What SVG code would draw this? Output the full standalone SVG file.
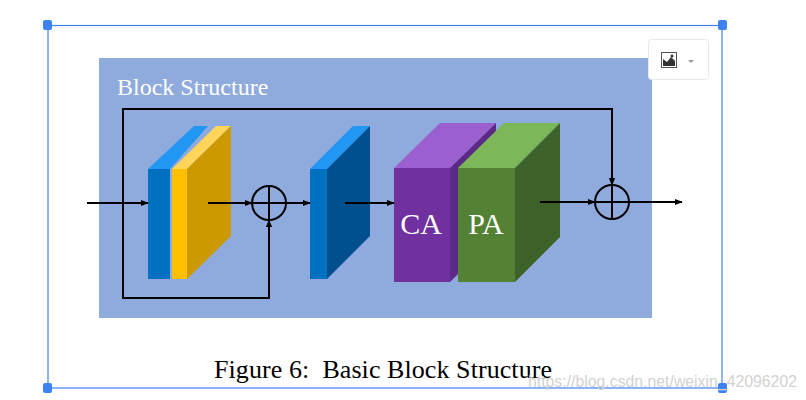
<svg xmlns="http://www.w3.org/2000/svg" width="806" height="400" viewBox="0 0 806 400">
<defs>
<marker id="ah" viewBox="0 0 10 10" refX="9" refY="5" markerWidth="8" markerHeight="8" markerUnits="userSpaceOnUse" orient="auto">
<path d="M0,1 L10,5 L0,9 Z" fill="#000"/>
</marker>
<style>
.ln{fill:none;stroke:#000;stroke-width:2}
.sel{fill:none;stroke:#3C82F0;stroke-width:1.2}
.hd{fill:#3C82F0}
.lbl{font-family:"Liberation Serif","Times New Roman",serif;fill:#fff}
</style>
</defs>
<rect width="806" height="400" fill="#fff"/>
<g id="panel">
<rect x="99" y="58" width="553" height="260" fill="#8FAADC"/>
<text class="lbl" x="117" y="95" font-size="24">Block Structure</text>
</g>
<g id="conv1">
<polygon points="148,169 194,126 208,126 170,169" fill="#2196F3"/>
<rect x="148" y="169" width="22" height="110" fill="#0070C0"/>
</g>
<g id="conv2">
<polygon points="172,169 216,126 231,126 187,169" fill="#FFD55A"/>
<polygon points="187,169 231,126 231,236 187,279" fill="#CC9900"/>
<rect x="172" y="169" width="15" height="110" fill="#FFC000"/>
</g>
<g id="add1">
<circle cx="269" cy="203" r="17" fill="none" stroke="#000" stroke-width="2"/>
<line x1="252" y1="203" x2="286" y2="203" stroke="#000" stroke-width="2"/>
<line x1="269" y1="186" x2="269" y2="220" stroke="#000" stroke-width="2"/>
</g>
<g id="conv3">
<polygon points="310,169 353,126 370,126 327,169" fill="#2196F3"/>
<polygon points="327,169 370,126 370,236 327,279" fill="#00508F"/>
<rect x="310" y="169" width="17" height="110" fill="#0070C0"/>
</g>
<g id="ca">
<polygon points="394,168 440,123 496,123 450,168" fill="#9B5FCF"/>
<polygon points="450,168 496,123 496,237 450,282" fill="#5A2A86"/>
<rect x="394" y="168" width="56" height="114" fill="#7030A0"/>
<text class="lbl" x="421" y="234" font-size="30" text-anchor="middle">CA</text>
</g>
<g id="pa">
<polygon points="458,168 504,123 560,123 515,168" fill="#7DB858"/>
<polygon points="515,168 560,123 560,237 515,282" fill="#3E6328"/>
<rect x="458" y="168" width="57" height="114" fill="#548235"/>
<text class="lbl" x="486" y="234" font-size="30" text-anchor="middle">PA</text>
</g>
<g id="add2">
<circle cx="612" cy="202" r="17" fill="none" stroke="#000" stroke-width="2"/>
<line x1="595" y1="202" x2="629" y2="202" stroke="#000" stroke-width="2"/>
<line x1="612" y1="185" x2="612" y2="219" stroke="#000" stroke-width="2"/>
</g>
<g id="connectors">
<line class="ln" x1="87" y1="203" x2="148" y2="203" marker-end="url(#ah)"/>
<line class="ln" x1="208" y1="203" x2="252" y2="203" marker-end="url(#ah)"/>
<polyline class="ln" points="123,203 123,298 269,298 269,220" marker-end="url(#ah)"/>
<line class="ln" x1="286" y1="203" x2="310" y2="203" marker-end="url(#ah)"/>
<line class="ln" x1="345" y1="203" x2="394" y2="203" marker-end="url(#ah)"/>
<polyline class="ln" points="123,203 123,109 612,109 612,185" marker-end="url(#ah)"/>
<line class="ln" x1="540" y1="202" x2="595" y2="202" marker-end="url(#ah)"/>
<line class="ln" x1="629" y1="202" x2="682" y2="202" marker-end="url(#ah)"/>
</g>
<g id="caption">
<text x="214" y="378" font-family="'Liberation Serif','Times New Roman',serif" font-size="26" fill="#000" textLength="338" xml:space="preserve">Figure 6:  Basic Block Structure</text>
</g>
<g id="selection">
<rect class="sel" x="48" y="25.5" width="674" height="362.5"/>
<rect class="hd" x="43" y="20" width="9" height="10" rx="2"/>
<rect class="hd" x="718" y="20" width="9" height="10" rx="2"/>
<rect class="hd" x="43" y="383" width="9" height="10" rx="2"/>
<rect class="hd" x="718" y="383" width="9" height="10" rx="2"/>
</g>
<g id="imgbtn">
<rect x="648.5" y="39.5" width="60" height="40" rx="3" fill="#fff" stroke="#E6E8EB"/>
<rect x="661.5" y="52.5" width="15" height="15" fill="#fff" stroke="#555"/>
<path d="M663,66 L663,59 L667,62 L671,57 L675,61 L675,66 Z" fill="#333"/>
<circle cx="672" cy="56" r="1.5" fill="#333"/>
<path d="M688,60 L694,60 L691,63 Z" fill="#999"/>
</g>
<text x="528" y="387" font-family="'Liberation Sans',Arial,sans-serif" font-size="15.8" fill="#D2D2D2" textLength="269">https://blog.csdn.net/weixin_42096202</text>
</svg>
